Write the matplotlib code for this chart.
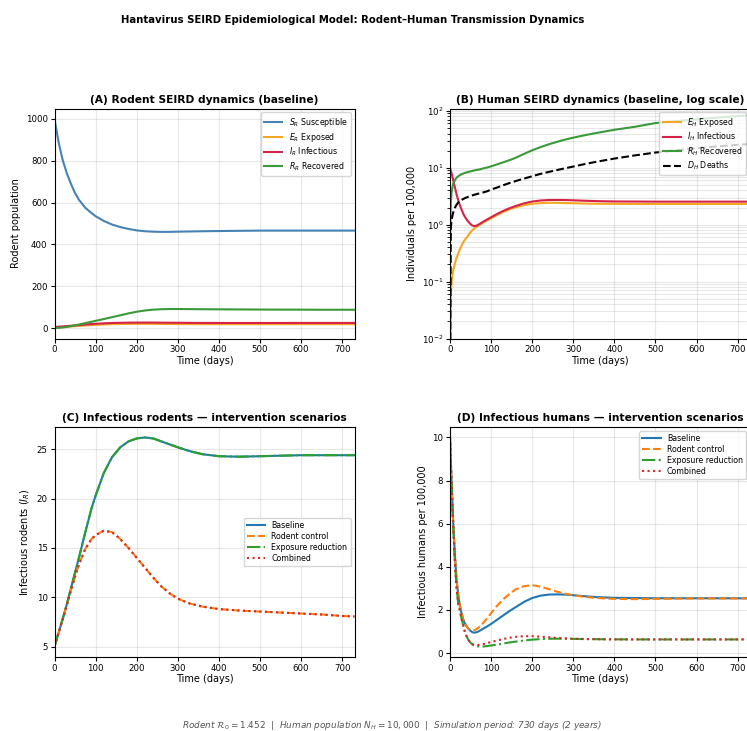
import matplotlib
matplotlib.use("Agg")
import matplotlib.pyplot as plt

# ---- data ----
t_rodent = [0, 10, 20, 30, 40, 50, 60, 75, 90, 100, 120, 140, 160, 180, 200,
            220, 240, 260, 280, 300, 330, 360, 400, 450, 500, 550, 600, 650, 700, 730]

s_rodent = [1000, 888, 803, 740, 690, 645, 612, 575, 550, 535, 512, 495, 483, 474, 467,
            463, 461, 460, 460, 461, 462, 463, 464, 465, 466, 466, 466, 466, 466, 466]
e_rodent = [0, 3, 4.5, 6, 7.5, 9, 10.3, 12.3, 14.2, 15.3, 17.2, 18.5, 19.3, 19.8, 20.0,
            20.0, 19.9, 19.6, 19.3, 19.0, 18.7, 18.6, 18.5, 18.5, 18.5, 18.5, 18.6, 18.6, 18.6, 18.6]
i_rodent = [5.0, 6.4, 7.8, 9.3, 10.9, 12.5, 14.1, 16.6, 19.0, 20.3, 22.6, 24.2, 25.2, 25.8, 26.1,
            26.2, 26.1, 25.8, 25.5, 25.2, 24.8, 24.5, 24.3, 24.25, 24.3, 24.35, 24.4, 24.4, 24.4, 24.4]
r_rodent = [0, 1, 3, 5.5, 9, 13, 17, 23.5, 30, 34.5, 43, 52, 61, 70, 78,
            84, 88, 90, 91, 91, 90.5, 90, 89.5, 89, 88.5, 88, 88, 87.5, 87.5, 87.5]

# infectious rodents under the intervention scenarios
ir_baseline = i_rodent
ir_rodent_control = [5.0, 6.4, 7.8, 9.2, 10.7, 12.1, 13.4, 14.9, 15.9, 16.3, 16.75, 16.6, 15.9, 15.0, 14.0,
                     13.0, 12.0, 11.1, 10.4, 9.85, 9.35, 9.05, 8.8, 8.65, 8.55, 8.45, 8.35, 8.25, 8.1, 8.05]
ir_exposure = ir_baseline
ir_combined = ir_rodent_control

t_human = [0, 2, 4, 6, 8, 12, 16, 20, 24, 28, 32, 36, 41, 45, 49, 53, 57, 62, 67, 73, 80, 90,
           100, 115, 130, 145, 160, 180, 200, 220, 240, 260, 280, 300, 330, 360, 400, 450,
           500, 550, 600, 650, 700, 730]

# human compartments, per 100,000
e_human = [1e-3, 0.06, 0.1, 0.13, 0.16, 0.21, 0.26, 0.31, 0.37, 0.43, 0.49, 0.54, 0.6, 0.66, 0.72,
           0.78, 0.83, 0.89, 0.94, 1.0, 1.08, 1.19, 1.3, 1.48, 1.68, 1.86, 2.02, 2.2, 2.32, 2.39,
           2.42, 2.42, 2.4, 2.38, 2.35, 2.33, 2.32, 2.31, 2.31, 2.31, 2.31, 2.31, 2.31, 2.31]
i_human = [10, 8.9, 7.9, 6.9, 6.0, 4.5, 3.4, 2.7, 2.2, 1.85, 1.57, 1.38, 1.22, 1.12, 1.04,
           0.98, 0.95, 0.95, 0.98, 1.04, 1.12, 1.23, 1.35, 1.55, 1.75, 1.95, 2.13, 2.37, 2.55, 2.66,
           2.71, 2.72, 2.71, 2.68, 2.63, 2.59, 2.56, 2.55, 2.54, 2.54, 2.54, 2.54, 2.54, 2.54]
r_human = [0.5, 2.5, 3.8, 4.6, 5.3, 6.1, 6.7, 7.1, 7.4, 7.7, 7.9, 8.1, 8.3, 8.45, 8.6,
           8.75, 8.9, 9.05, 9.2, 9.4, 9.7, 10.1, 10.6, 11.5, 12.5, 13.6, 15.0, 17.5, 20.3, 23.0,
           25.8, 28.5, 31.2, 33.8, 37.6, 41.3, 46.5, 52.5, 61, 66, 71, 76, 81, 84]
d_human = [1e-3, 0.9, 1.2, 1.45, 1.65, 1.98, 2.25, 2.45, 2.6, 2.72, 2.82, 2.92, 3.02, 3.1, 3.18,
           3.25, 3.32, 3.4, 3.48, 3.57, 3.68, 3.85, 4.15, 4.5, 4.95, 5.4, 5.85, 6.45, 7.1, 7.8,
           8.45, 9.1, 9.8, 10.5, 11.7, 12.9, 14.5, 16.5, 18.5, 20.3, 22.0, 23.7, 25.3, 26.2]

# infectious humans under the intervention scenarios
ih_baseline = i_human
ih_rodent_control = [10, 8.9, 7.9, 6.9, 6.0, 4.5, 3.4, 2.7, 2.2, 1.85, 1.57, 1.38, 1.22, 1.13, 1.07,
                     1.04, 1.04, 1.08, 1.14, 1.24, 1.38, 1.6, 1.85, 2.2, 2.5, 2.75, 2.95, 3.1, 3.15, 3.08,
                     2.97, 2.85, 2.75, 2.68, 2.6, 2.55, 2.51, 2.5, 2.51, 2.52, 2.53, 2.53, 2.53, 2.53]
ih_exposure = [10, 8.8, 7.7, 6.7, 5.8, 4.2, 3.0, 2.3, 2.0, 1.6, 1.3, 1.0, 0.75, 0.6, 0.5,
               0.42, 0.37, 0.33, 0.31, 0.3, 0.3, 0.32, 0.35, 0.39, 0.44, 0.49, 0.53, 0.58, 0.62, 0.645,
               0.66, 0.665, 0.66, 0.655, 0.645, 0.64, 0.635, 0.63, 0.63, 0.63, 0.63, 0.63, 0.63, 0.63]
ih_combined = [10, 8.8, 7.7, 6.7, 5.8, 4.2, 3.0, 2.3, 2.0, 1.6, 1.3, 1.0, 0.75, 0.6, 0.5,
               0.42, 0.39, 0.37, 0.37, 0.38, 0.41, 0.46, 0.51, 0.58, 0.65, 0.71, 0.75, 0.78, 0.78, 0.76,
               0.73, 0.7, 0.68, 0.665, 0.65, 0.64, 0.63, 0.63, 0.63, 0.63, 0.63, 0.63, 0.63, 0.63]

rodent_colors = ["#4682b4", "#f5a623", "#d62246", "#3a9a3a"]
scenario_colors = ["#1f77b4", "#ff7f0e", "#2ca02c", "#d62728"]
scenario_labels = ["Baseline", "Rodent control", "Exposure reduction", "Combined"]
scenario_styles = ["-", "--", "-.", ":"]

TITLE_FS = 7.7
LABEL_FS = 7
TICK_FS = 6.2
LEGEND_FS = 5.7


def style_axis(ax, title, ylabel):
    ax.set_title(title, fontsize=TITLE_FS, fontweight="bold", pad=4)
    ax.set_xlabel("Time (days)", fontsize=LABEL_FS, labelpad=1)
    ax.set_ylabel(ylabel, fontsize=LABEL_FS, labelpad=3)
    ax.tick_params(labelsize=TICK_FS, length=3, pad=2)
    ax.set_xlim(0, 730)


def add_legend(ax, loc):
    ax.legend(loc=loc, fontsize=LEGEND_FS, labelspacing=0.25, handlelength=2.3)


def main():
    W, H = 747, 731
    fig = plt.figure(figsize=(W / 100, H / 100), dpi=100)

    def axes_px(left, top, width, height):
        return fig.add_axes([left / W, 1 - (top + height) / H, width / W, height / H])

    ax_a = axes_px(54.5, 108.5, 300, 230)
    ax_b = axes_px(450, 108.5, 300, 230)
    ax_c = axes_px(54.5, 427, 300, 230)
    ax_d = axes_px(450, 427, 300, 230)

    # (A) rodent compartments
    ax_a.plot(t_rodent, s_rodent, color=rodent_colors[0], lw=1.5, label=r"$S_R$ Susceptible")
    ax_a.plot(t_rodent, e_rodent, color=rodent_colors[1], lw=1.5, label=r"$E_R$ Exposed")
    ax_a.plot(t_rodent, i_rodent, color=rodent_colors[2], lw=1.5, label=r"$I_R$ Infectious")
    ax_a.plot(t_rodent, r_rodent, color=rodent_colors[3], lw=1.5, label=r"$R_R$ Recovered")
    style_axis(ax_a, "(A) Rodent SEIRD dynamics (baseline)", "Rodent population")
    ax_a.grid(True, alpha=0.3)
    add_legend(ax_a, "upper right")

    # (B) human compartments, log scale
    ax_b.plot(t_human, e_human, color=rodent_colors[1], lw=1.5, label=r"$E_H$ Exposed")
    ax_b.plot(t_human, i_human, color=rodent_colors[2], lw=1.5, label=r"$I_H$ Infectious")
    ax_b.plot(t_human, r_human, color=rodent_colors[3], lw=1.5, label=r"$R_H$ Recovered")
    ax_b.plot(t_human, d_human, color="black", lw=1.5, ls="--", label=r"$D_H$ Deaths")
    ax_b.set_yscale("log")
    ax_b.set_ylim(1e-2, 110)
    style_axis(ax_b, "(B) Human SEIRD dynamics (baseline, log scale)", "Individuals per 100,000")
    ax_b.grid(True, which="both", alpha=0.3)
    add_legend(ax_b, "upper right")

    # (C) infectious rodents by scenario
    for y, c, ls, lab in zip([ir_baseline, ir_rodent_control, ir_exposure, ir_combined],
                             scenario_colors, scenario_styles, scenario_labels):
        ax_c.plot(t_rodent, y, color=c, ls=ls, lw=1.5, label=lab)
    style_axis(ax_c, "(C) Infectious rodents \u2014 intervention scenarios",
               r"Infectious rodents ($I_R$)")
    ax_c.grid(True, alpha=0.3)
    add_legend(ax_c, "center right")

    # (D) infectious humans by scenario
    for y, c, ls, lab in zip([ih_baseline, ih_rodent_control, ih_exposure, ih_combined],
                             scenario_colors, scenario_styles, scenario_labels):
        ax_d.plot(t_human, y, color=c, ls=ls, lw=1.5, label=lab)
    style_axis(ax_d, "(D) Infectious humans \u2014 intervention scenarios",
               "Infectious humans per 100,000")
    ax_d.grid(True, alpha=0.3)
    add_legend(ax_d, "upper right")

    fig.text(353 / W, 1 - 20 / H,
             "Hantavirus SEIRD Epidemiological Model: Rodent\u2013Human Transmission Dynamics",
             ha="center", va="center", fontsize=7.3, fontweight="bold")
    fig.text(392 / W, 1 - 725 / H,
             r"Rodent $\mathcal{R}_0 = 1.452$  |  Human population $N_H = 10,000$  |  "
             "Simulation period: 730 days (2 years)",
             ha="center", va="center", fontsize=6.4, style="italic", color="#555555")

    fig.savefig("out.png", dpi=100)


if __name__ == "__main__":
    main()
